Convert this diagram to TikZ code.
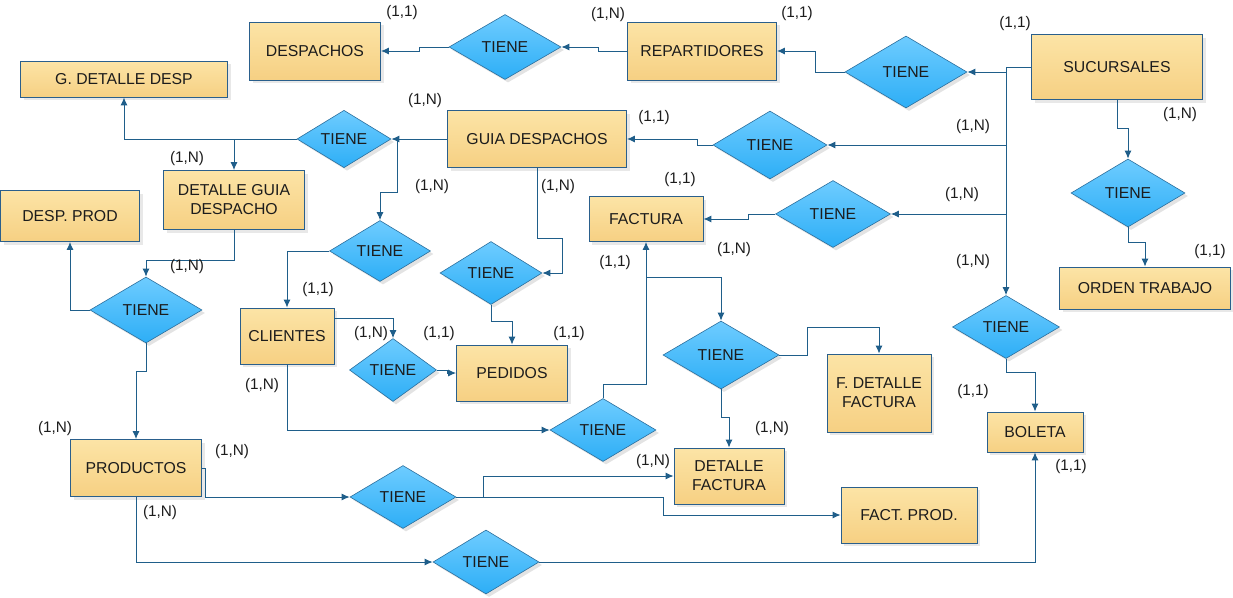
\documentclass[tikz,border=0pt]{standalone}
\usepackage{fontspec}
\setmainfont{Liberation Sans}
\usepackage{xcolor}
\usetikzlibrary{arrows.meta, shapes.geometric, shadows}

\definecolor{linec}{HTML}{1F5E8A}
\definecolor{entb}{HTML}{2A5F8C}
\definecolor{enttop}{HTML}{FCE4A6}
\definecolor{entbot}{HTML}{F6D083}
\definecolor{relb}{HTML}{2B6E9C}
\definecolor{reltop}{HTML}{6ECCFF}
\definecolor{relbot}{HTML}{2DAEF6}
\definecolor{txt}{HTML}{1C1C1C}

\begin{document}
\begin{tikzpicture}[
    x=1pt, y=-1pt,
    ent/.style={rectangle, draw=entb, line width=0.8pt, top color=enttop, bottom color=entbot,
      inner sep=2pt, align=center, text=txt, font=\fontsize{15.8}{19}\selectfont,
      drop shadow={shadow xshift=3pt, shadow yshift=-3pt, fill=black!18}},
    rel/.style={diamond, draw=relb, line width=0.6pt, top color=reltop, bottom color=relbot,
      inner sep=0pt, text=txt, font=\fontsize{15.8}{19}\selectfont,
      drop shadow={shadow xshift=3pt, shadow yshift=-3pt, fill=black!22}},
    card/.style={inner sep=0pt, text=txt, font=\fontsize{15.3}{18}\selectfont},
    con/.style={draw=linec, line width=1pt},
    arr/.style={con, -{Latex[length=8pt, width=7pt]}}
  ]
  \useasboundingbox (0,0) rectangle (1233,597);

  % entidades
  \node[ent, minimum width=131, minimum height=58] (desp) at (315,51) {DESPACHOS};
  \node[ent, minimum width=207, minimum height=36] (gdd) at (124,79) {G. DETALLE DESP};
  \node[ent, minimum width=149, minimum height=58] (rep) at (702,51) {REPARTIDORES};
  \node[ent, minimum width=171, minimum height=65] (suc) at (1117,67) {SUCURSALES};
  \node[ent, minimum width=179, minimum height=57] (guia) at (537,139) {GUIA DESPACHOS};
  \node[ent, minimum width=141, minimum height=59] (dgd) at (234,200) {DETALLE GUIA\\DESPACHO};
  \node[ent, minimum width=139, minimum height=51] (dp) at (70,216) {DESP. PROD};
  \node[ent, minimum width=114, minimum height=45] (fac) at (646,219) {FACTURA};
  \node[ent, minimum width=171, minimum height=42] (ord) at (1145,288) {ORDEN TRABAJO};
  \node[ent, minimum width=94, minimum height=56] (cli) at (287,336) {CLIENTES};
  \node[ent, minimum width=111, minimum height=56] (ped) at (512,373) {PEDIDOS};
  \node[ent, minimum width=104, minimum height=78] (fdf) at (879,393) {F. DETALLE\\FACTURA};
  \node[ent, minimum width=96, minimum height=40] (bol) at (1035,432) {BOLETA};
  \node[ent, minimum width=131, minimum height=57] (prod) at (136,468) {PRODUCTOS};
  \node[ent, minimum width=110, minimum height=56] (df) at (729,476) {DETALLE\\FACTURA};
  \node[ent, minimum width=136, minimum height=56] (fp) at (909,515) {FACT. PROD.};

  % relaciones
  \node[rel, minimum width=112, minimum height=65] (r1) at (505,47) {TIENE};
  \node[rel, minimum width=122, minimum height=72] (r2) at (906,72) {TIENE};
  \node[rel, minimum width=94, minimum height=57] (r3) at (344,139) {TIENE};
  \node[rel, minimum width=114, minimum height=68] (r4) at (770,145) {TIENE};
  \node[rel, minimum width=115, minimum height=67] (r5) at (833,214) {TIENE};
  \node[rel, minimum width=114, minimum height=68] (r6) at (1128,193) {TIENE};
  \node[rel, minimum width=101, minimum height=61] (r7) at (380,251) {TIENE};
  \node[rel, minimum width=102, minimum height=63] (r8) at (491,273) {TIENE};
  \node[rel, minimum width=112, minimum height=66] (r9) at (146,310) {TIENE};
  \node[rel, minimum width=87, minimum height=63] (r10) at (393,370) {TIENE};
  \node[rel, minimum width=106, minimum height=63] (r11) at (603,430) {TIENE};
  \node[rel, minimum width=116, minimum height=68] (r12) at (721,355) {TIENE};
  \node[rel, minimum width=107, minimum height=63] (r13) at (1006,327) {TIENE};
  \node[rel, minimum width=106, minimum height=63] (r14) at (403,497) {TIENE};
  \node[rel, minimum width=106, minimum height=64] (r15) at (486,562) {TIENE};

  % conectores
  \coordinate (trk) at (1006,67);
  \draw[arr] (r1.west) -- ++(-29,0) |- (desp.east);
  \draw[arr] (rep.west) -- ++(-29,0) |- (r1.east);
  \draw[con] (suc.west) -- (trk);
  \draw[arr] (trk) |- (r2.east);
  \draw[arr] (trk) -- (r13.north);
  \draw[arr] (trk |- r4.east) -- (r4.east);
  \draw[arr] (trk |- r5.east) -- (r5.east);
  \draw[arr] (r2.west) -- ++(-29,0) |- (rep.east);
  \draw[arr] (r4.west) -- ++(-15,0) |- (guia.east);
  \draw[arr] (r5.west) -- ++(-27,0) |- (fac.east);
  \draw[arr] (suc.south) -- ++(0,29) -| (r6.north);
  \draw[arr] (r6.south) -- ++(0,15) -| (ord.north);
  \draw[arr] (guia.west) -- (r3.east);
  \draw[arr] (r3.west) -| (gdd.south);
  \draw[arr] (dgd.north |- r3.west) -- (dgd.north);
  \draw[arr] ([xshift=6pt]r3.east) -- ++(0,53) -| (r7.north);
  \draw[arr] (r7.west) -| (cli.north);
  \draw[arr] (guia.south) -- ++(0,71) -- ++(25,0) |- (r8.east);
  \draw[arr] (r8.south) -- ++(0,17) -| (ped.north);
  \draw[arr] ([yshift=18pt]cli.east) -| (r10.north);
  \draw[arr] (r10.east) -- ++(11,0) |- (ped.west);
  \draw[arr] (cli.south) |- (r11.west);
  \draw[arr] (r11.north) -- ++(0,-14) -| (fac.south);
  \draw[arr] ([yshift=-36pt]fac.south) -| (r12.north);
  \draw[arr] (r12.east) -- ++(28,0) -- ++(0,-28) -| (fdf.north);
  \draw[arr] (r12.south) -- ++(0,28) -| (df.north);
  \draw[arr] (dgd.south) -- ++(0,31) -| (r9.north);
  \draw[arr] (r9.west) -| (dp.south);
  \draw[arr] (r9.south) -- ++(0,28) -| (prod.north);
  \draw[arr] (prod.east) -- ++(4,0) |- (r14.west);
  \draw[arr] (r14.east) -- ++(27,0) |- (df.west);
  \draw[arr] (r14.east) -- ++(207,0) |- (fp.west);
  \draw[arr] (prod.south) |- (r15.west);
  \draw[arr] (r15.east) -| (bol.south);
  \draw[arr] (r13.south) -- ++(0,14) -| (bol.north);

  % cardinalidades
  \node[card] (c1) at (402,13) {(1,1)};
  \node[card] (c2) at (608,15) {(1,N)};
  \node[card] (c3) at (797,14) {(1,1)};
  \node[card] (c4) at (1015,24) {(1,1)};
  \node[card] (c5) at (1180,115) {(1,N)};
  \node[card] (c6) at (425,101) {(1,N)};
  \node[card] (c7) at (654,118) {(1,1)};
  \node[card] (c8) at (973,127) {(1,N)};
  \node[card] (c9) at (187,159) {(1,N)};
  \node[card] (c10) at (432,187) {(1,N)};
  \node[card] (c11) at (558,187) {(1,N)};
  \node[card] (c12) at (680,180) {(1,1)};
  \node[card] (c13) at (962,195) {(1,N)};
  \node[card] (c14) at (734,250) {(1,N)};
  \node[card] (c15) at (615,263) {(1,1)};
  \node[card] (c16) at (973,262) {(1,N)};
  \node[card] (c17) at (1210,252) {(1,1)};
  \node[card] (c18) at (187,267) {(1,N)};
  \node[card] (c19) at (318,290) {(1,1)};
  \node[card] (c20) at (371,334) {(1,N)};
  \node[card] (c21) at (439,334) {(1,1)};
  \node[card] (c22) at (569,334) {(1,1)};
  \node[card] (c23) at (262,386) {(1,N)};
  \node[card] (c24) at (973,392) {(1,1)};
  \node[card] (c25) at (55,429) {(1,N)};
  \node[card] (c26) at (772,429) {(1,N)};
  \node[card] (c27) at (232,452) {(1,N)};
  \node[card] (c28) at (653,462) {(1,N)};
  \node[card] (c29) at (1071,467) {(1,1)};
  \node[card] (c30) at (160,513) {(1,N)};
\end{tikzpicture}
\end{document}
